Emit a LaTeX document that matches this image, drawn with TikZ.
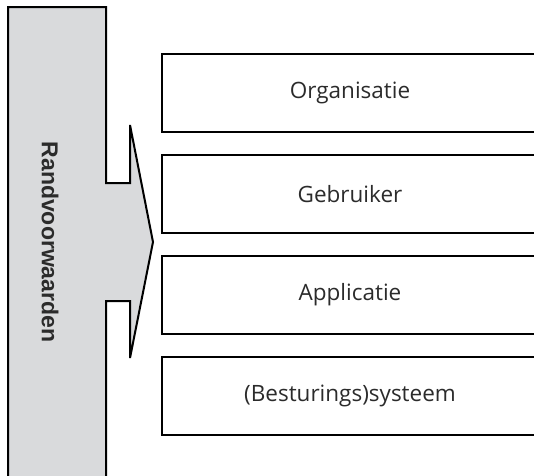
\documentclass[tikz,border=0pt]{standalone}
\usepackage{fontspec}
\setmainfont{Open Sans}
\newfontfamily\labelfont{Liberation Sans}
\definecolor{colfill}{HTML}{D9DADC}
\definecolor{inkgray}{HTML}{2B2B2B}
\begin{document}
\begin{tikzpicture}[x=1pt,y=-1pt,
  layerbox/.style={draw=black,line width=2pt,minimum width=376pt,minimum height=78pt,
    anchor=north west,inner sep=0pt,font=\fontsize{22.5}{26}\selectfont,text=inkgray},
  frame/.style={draw=black,line width=2pt,fill=colfill,line join=miter}]
\useasboundingbox (0,0) rectangle (534,475);
\begin{scope}
\clip (0,0) rectangle (534,475);
% column with arrow pointing at the layers
\draw[frame] (8,485) -- (8,7) -- (106,7) -- (106,183) -- (130,183) -- (130,125)
  -- (153,242) -- (130,358) -- (130,301) -- (106,301) -- (106,485);
\node[font=\labelfont\bfseries\fontsize{23}{26}\selectfont,rotate=-90,text=inkgray] (rand) at (50,242) {Randvoorwaarden};
% layers
\node[layerbox] (org) at (161,53) {Organisatie};
\node[layerbox] (geb) at (161,154) {Gebruiker};
\node[layerbox] (app) at (161,255) {Applicatie};
\node[layerbox] (sys) at (161,356) {(Besturings)systeem};
\end{scope}
\end{tikzpicture}
\end{document}
